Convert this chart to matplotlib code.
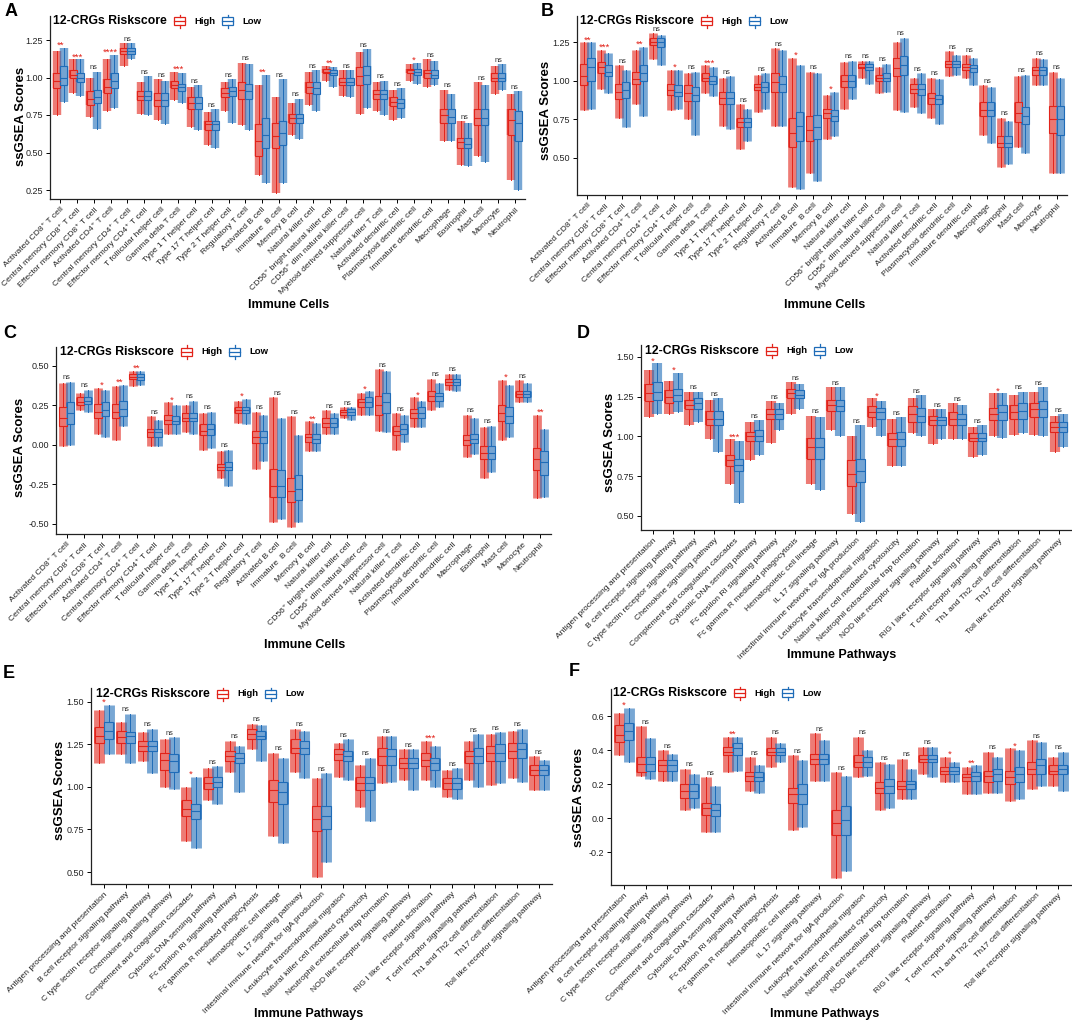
import numpy as np
import matplotlib
matplotlib.use('Agg')
import matplotlib.pyplot as plt
from matplotlib.patches import Rectangle
from matplotlib.lines import Line2D

plt.rcParams['font.family'] = ['Liberation Sans', 'DejaVu Sans']

W, H = 1072, 1023
high_color = '#E2231A'
low_color = '#1F6CB8'
ns_color = '#333333'

cell_types = [
    'Activated CD8\u207a T cell', 'Central memory CD8\u207a T cell', 'Effector memory CD8\u207a T cell',
    'Activated CD4\u207a T cell', 'Central memory CD4\u207a T cell', 'Effector memory CD4\u207a T cell',
    'T follicular helper cell', 'Gamma delta T cell', 'Type 1 T helper cell', 'Type 17 T helper cell',
    'Type 2 T helper cell', 'Regulatory T cell', 'Activated B cell', 'Immature  B cell', 'Memory B cell',
    'Natural killer cell', 'CD56\u207a bright natural killer cell', 'CD56\u207a dim natural killer cell',
    'Myeloid derived suppressor cell', 'Natural killer T cell', 'Activated dendritic cell',
    'Plasmacytoid dendritic cell', 'Immature dendritic cell', 'Macrophage', 'Eosinophil', 'Mast cell',
    'Monocyte', 'Neutrophil',
]

pathways = [
    'Antigen processing and presentation', 'B cell receptor signaling pathway',
    'C type lectin receptor signaling pathway', 'Chemokine signaling pathway',
    'Complement and coagulation cascades', 'Cytosolic DNA sensing pathway',
    'Fc epsilon RI signaling pathway', 'Fc gamma R mediated phagocytosis', 'Hematopoietic cell lineage',
    'IL 17 signaling pathway', 'Intestinal immune network for IgA production',
    'Leukocyte transendothelial migration', 'Natural killer cell mediated cytotoxicity',
    'Neutrophil extracellular trap formation', 'NOD like receptor signaling pathway',
    'Platelet activation', 'RIG I like receptor signaling pathway', 'T cell receptor signaling pathway',
    'Th1 and Th2 cell differentiation', 'Th17 cell differentiation', 'Toll like receptor signaling pathway',
]

# each row: (lowest point, q1, median, q3, highest point)
A_high = [
    (0.75, 0.93, 0.98, 1.03, 1.18), (0.90, 1.00, 1.02, 1.05, 1.12), (0.74, 0.82, 0.86, 0.91, 1.00),
    (0.78, 0.90, 0.94, 0.99, 1.12), (1.08, 1.16, 1.18, 1.20, 1.23), (0.76, 0.85, 0.88, 0.91, 0.97),
    (0.72, 0.81, 0.85, 0.90, 0.99), (0.85, 0.93, 0.95, 0.98, 1.04), (0.67, 0.79, 0.83, 0.87, 0.94),
    (0.55, 0.65, 0.69, 0.71, 0.77), (0.78, 0.87, 0.90, 0.93, 0.97), (0.68, 0.86, 0.92, 0.97, 1.10),
    (0.35, 0.48, 0.58, 0.69, 0.95), (0.23, 0.53, 0.61, 0.70, 0.87), (0.62, 0.70, 0.73, 0.76, 0.83),
    (0.82, 0.90, 0.94, 0.97, 1.04), (0.98, 1.03, 1.04, 1.06, 1.08), (0.88, 0.95, 0.97, 1.00, 1.05),
    (0.76, 0.95, 1.01, 1.07, 1.17), (0.78, 0.86, 0.89, 0.92, 0.97), (0.72, 0.81, 0.84, 0.87, 0.92),
    (0.98, 1.03, 1.05, 1.06, 1.09), (0.94, 1.00, 1.03, 1.05, 1.12), (0.58, 0.70, 0.75, 0.79, 0.92),
    (0.42, 0.53, 0.57, 0.60, 0.71), (0.48, 0.68, 0.73, 0.79, 0.97), (0.89, 0.98, 1.00, 1.03, 1.08),
    (0.32, 0.62, 0.72, 0.79, 0.89),
]
A_low = [
    (0.84, 0.95, 1.00, 1.08, 1.20), (0.88, 0.97, 1.00, 1.03, 1.12), (0.66, 0.83, 0.87, 0.92, 1.04),
    (0.80, 0.93, 0.98, 1.03, 1.15), (1.12, 1.16, 1.18, 1.20, 1.23), (0.75, 0.85, 0.88, 0.91, 1.01),
    (0.69, 0.81, 0.85, 0.90, 0.98), (0.83, 0.91, 0.94, 0.96, 1.03), (0.65, 0.79, 0.83, 0.87, 0.95),
    (0.53, 0.65, 0.69, 0.71, 0.79), (0.70, 0.88, 0.91, 0.94, 0.99), (0.65, 0.86, 0.91, 0.96, 1.09),
    (0.30, 0.53, 0.62, 0.73, 1.02), (0.30, 0.55, 0.63, 0.71, 0.99), (0.59, 0.70, 0.73, 0.76, 0.86),
    (0.78, 0.89, 0.93, 0.97, 1.05), (0.94, 1.02, 1.03, 1.05, 1.07), (0.87, 0.95, 0.97, 1.00, 1.05),
    (0.80, 0.96, 1.02, 1.08, 1.19), (0.75, 0.86, 0.89, 0.92, 0.98), (0.73, 0.80, 0.83, 0.86, 0.93),
    (0.96, 1.02, 1.04, 1.06, 1.10), (0.95, 1.00, 1.02, 1.05, 1.11), (0.58, 0.70, 0.74, 0.79, 0.89),
    (0.41, 0.53, 0.56, 0.60, 0.70), (0.44, 0.68, 0.73, 0.79, 0.95), (0.92, 0.98, 1.00, 1.03, 1.09),
    (0.25, 0.58, 0.70, 0.78, 0.91),
]
A_sig = ['**', '***', 'ns', '****', 'ns', 'ns', 'ns', '***', 'ns', 'ns', 'ns', 'ns', '**', 'ns',
         'ns', 'ns', '**', 'ns', 'ns', 'ns', 'ns', '*', 'ns', 'ns', 'ns', 'ns', 'ns', 'ns']

B_high = [
    (0.81, 0.97, 1.03, 1.11, 1.25), (0.95, 1.05, 1.09, 1.12, 1.20), (0.76, 0.88, 0.93, 0.98, 1.10),
    (0.85, 0.98, 1.01, 1.06, 1.20), (1.14, 1.23, 1.25, 1.28, 1.31), (0.81, 0.91, 0.94, 0.98, 1.07),
    (0.75, 0.87, 0.92, 0.97, 1.05), (0.92, 1.00, 1.02, 1.05, 1.10), (0.71, 0.85, 0.89, 0.93, 1.02),
    (0.56, 0.70, 0.73, 0.76, 0.85), (0.80, 0.94, 0.96, 0.98, 1.04), (0.71, 0.93, 0.99, 1.05, 1.21),
    (0.31, 0.57, 0.66, 0.76, 1.15), (0.40, 0.61, 0.68, 0.77, 1.06), (0.62, 0.76, 0.79, 0.82, 0.91),
    (0.82, 0.96, 1.00, 1.04, 1.12), (1.02, 1.08, 1.09, 1.11, 1.13), (0.92, 1.00, 1.02, 1.04, 1.09),
    (0.81, 1.03, 1.08, 1.15, 1.25), (0.83, 0.92, 0.95, 0.98, 1.02), (0.76, 0.85, 0.89, 0.92, 1.02),
    (1.03, 1.09, 1.11, 1.13, 1.19), (1.02, 1.07, 1.09, 1.11, 1.17), (0.65, 0.77, 0.81, 0.86, 0.97),
    (0.44, 0.57, 0.60, 0.64, 0.76), (0.57, 0.73, 0.79, 0.86, 1.03), (0.97, 1.04, 1.07, 1.09, 1.15),
    (0.40, 0.66, 0.75, 0.84, 1.06),
]
B_low = [
    (0.82, 1.00, 1.09, 1.15, 1.25), (0.92, 1.03, 1.06, 1.10, 1.18), (0.70, 0.89, 0.94, 0.99, 1.07),
    (0.77, 1.00, 1.05, 1.10, 1.22), (1.10, 1.22, 1.25, 1.28, 1.30), (0.82, 0.90, 0.93, 0.97, 1.07),
    (0.65, 0.87, 0.91, 0.96, 1.06), (0.90, 0.98, 1.00, 1.03, 1.09), (0.69, 0.85, 0.89, 0.93, 1.03),
    (0.61, 0.70, 0.73, 0.76, 0.82), (0.82, 0.93, 0.96, 0.99, 1.05), (0.71, 0.93, 0.98, 1.03, 1.20),
    (0.30, 0.61, 0.71, 0.80, 1.10), (0.35, 0.62, 0.70, 0.78, 1.05), (0.64, 0.74, 0.77, 0.81, 0.93),
    (0.88, 0.96, 1.00, 1.04, 1.13), (0.98, 1.07, 1.09, 1.11, 1.13), (0.93, 1.00, 1.02, 1.05, 1.11),
    (0.80, 1.04, 1.10, 1.16, 1.28), (0.79, 0.91, 0.95, 0.98, 1.05), (0.72, 0.85, 0.88, 0.91, 1.01),
    (1.04, 1.09, 1.11, 1.13, 1.17), (0.97, 1.06, 1.08, 1.10, 1.15), (0.60, 0.77, 0.81, 0.86, 0.96),
    (0.46, 0.57, 0.60, 0.64, 0.74), (0.53, 0.72, 0.77, 0.83, 1.04), (0.97, 1.04, 1.07, 1.09, 1.14),
    (0.40, 0.65, 0.75, 0.84, 1.02),
]
B_sig = ['**', '***', 'ns', '**', 'ns', '*', 'ns', '***', 'ns', 'ns', 'ns', 'ns', '*', 'ns',
         '*', 'ns', 'ns', 'ns', 'ns', 'ns', 'ns', 'ns', 'ns', 'ns', 'ns', 'ns', 'ns', 'ns']

C_high = [
    (-0.01, 0.12, 0.17, 0.24, 0.39), (0.22, 0.25, 0.27, 0.30, 0.33), (0.07, 0.17, 0.21, 0.26, 0.36),
    (0.03, 0.17, 0.21, 0.26, 0.37), (0.37, 0.42, 0.43, 0.45, 0.47), (-0.01, 0.05, 0.08, 0.10, 0.18),
    (0.07, 0.13, 0.16, 0.19, 0.27), (0.08, 0.15, 0.17, 0.20, 0.25), (-0.03, 0.06, 0.09, 0.13, 0.20),
    (-0.21, -0.16, -0.14, -0.12, -0.04), (0.14, 0.20, 0.22, 0.24, 0.28), (-0.15, 0.01, 0.05, 0.09, 0.21),
    (-0.49, -0.33, -0.26, -0.15, 0.30), (-0.52, -0.36, -0.29, -0.21, 0.18), (-0.04, 0.02, 0.05, 0.07, 0.15),
    (0.07, 0.11, 0.14, 0.17, 0.22), (0.17, 0.19, 0.21, 0.22, 0.24), (0.19, 0.24, 0.27, 0.29, 0.33),
    (0.09, 0.19, 0.25, 0.31, 0.48), (-0.03, 0.06, 0.09, 0.12, 0.20), (0.11, 0.17, 0.20, 0.23, 0.30),
    (0.22, 0.28, 0.31, 0.34, 0.42), (0.35, 0.38, 0.40, 0.42, 0.45), (-0.08, 0.00, 0.03, 0.06, 0.19),
    (-0.21, -0.09, -0.05, -0.01, 0.11), (0.03, 0.15, 0.20, 0.25, 0.41), (0.27, 0.30, 0.32, 0.34, 0.41),
    (-0.34, -0.16, -0.09, -0.02, 0.19),
]
C_low = [
    (0.00, 0.13, 0.20, 0.27, 0.40), (0.21, 0.26, 0.28, 0.30, 0.35), (0.05, 0.18, 0.22, 0.27, 0.35),
    (0.12, 0.18, 0.23, 0.28, 0.38), (0.38, 0.41, 0.43, 0.45, 0.47), (-0.01, 0.05, 0.08, 0.10, 0.16),
    (0.07, 0.13, 0.15, 0.18, 0.25), (0.07, 0.15, 0.17, 0.20, 0.28), (-0.02, 0.06, 0.10, 0.13, 0.21),
    (-0.26, -0.16, -0.14, -0.11, -0.03), (0.13, 0.20, 0.22, 0.24, 0.29), (-0.10, 0.01, 0.05, 0.09, 0.19),
    (-0.47, -0.33, -0.26, -0.16, 0.17), (-0.49, -0.35, -0.28, -0.19, 0.06), (-0.04, 0.01, 0.04, 0.07, 0.14),
    (0.07, 0.11, 0.14, 0.17, 0.20), (0.16, 0.19, 0.21, 0.23, 0.24), (0.19, 0.24, 0.27, 0.30, 0.34),
    (0.08, 0.20, 0.27, 0.33, 0.47), (0.02, 0.07, 0.10, 0.13, 0.19), (0.11, 0.17, 0.20, 0.24, 0.28),
    (0.24, 0.28, 0.31, 0.33, 0.39), (0.34, 0.38, 0.40, 0.42, 0.45), (-0.06, 0.01, 0.04, 0.07, 0.17),
    (-0.17, -0.09, -0.05, -0.01, 0.12), (0.05, 0.14, 0.18, 0.24, 0.38), (0.27, 0.30, 0.32, 0.34, 0.39),
    (-0.33, -0.19, -0.11, -0.04, 0.10),
]
C_sig = ['ns', 'ns', '*', '**', '**', 'ns', '*', 'ns', 'ns', 'ns', '*', 'ns', 'ns', 'ns',
         '**', 'ns', 'ns', '*', 'ns', 'ns', '*', 'ns', 'ns', 'ns', 'ns', '*', 'ns', '**']

D_high = [
    (1.12, 1.22, 1.27, 1.33, 1.42), (1.14, 1.21, 1.25, 1.29, 1.35), (1.07, 1.17, 1.20, 1.23, 1.28),
    (0.98, 1.07, 1.11, 1.16, 1.23), (0.70, 0.81, 0.85, 0.88, 0.98), (0.85, 0.97, 1.00, 1.03, 1.09),
    (0.96, 1.11, 1.14, 1.17, 1.22), (1.14, 1.24, 1.27, 1.30, 1.34), (0.70, 0.86, 0.93, 0.99, 1.13),
    (1.04, 1.16, 1.20, 1.23, 1.31), (0.51, 0.69, 0.76, 0.85, 1.00), (1.06, 1.12, 1.15, 1.19, 1.24),
    (0.81, 0.94, 0.98, 1.02, 1.11), (1.02, 1.09, 1.14, 1.19, 1.24), (0.95, 1.07, 1.10, 1.13, 1.17),
    (0.98, 1.07, 1.11, 1.15, 1.21), (0.87, 0.97, 0.99, 1.02, 1.06), (1.00, 1.10, 1.14, 1.18, 1.27),
    (1.01, 1.11, 1.15, 1.20, 1.26), (1.01, 1.12, 1.17, 1.21, 1.28), (0.90, 1.03, 1.06, 1.09, 1.13),
]
D_low = [
    (1.14, 1.23, 1.28, 1.34, 1.46), (1.15, 1.22, 1.26, 1.30, 1.40), (1.09, 1.17, 1.21, 1.24, 1.28),
    (0.90, 1.07, 1.11, 1.16, 1.24), (0.58, 0.78, 0.82, 0.86, 0.97), (0.88, 0.97, 1.00, 1.04, 1.10),
    (1.04, 1.11, 1.14, 1.17, 1.21), (1.17, 1.24, 1.26, 1.29, 1.33), (0.66, 0.86, 0.93, 0.99, 1.12),
    (1.00, 1.16, 1.19, 1.23, 1.31), (0.46, 0.71, 0.78, 0.86, 1.07), (1.00, 1.11, 1.15, 1.18, 1.22),
    (0.81, 0.94, 0.98, 1.03, 1.12), (1.00, 1.09, 1.13, 1.18, 1.26), (0.98, 1.07, 1.10, 1.12, 1.17),
    (0.98, 1.07, 1.11, 1.14, 1.20), (0.88, 0.97, 0.99, 1.02, 1.07), (0.99, 1.10, 1.15, 1.20, 1.27),
    (1.02, 1.11, 1.16, 1.21, 1.28), (1.00, 1.12, 1.17, 1.22, 1.31), (0.93, 1.03, 1.06, 1.09, 1.14),
]
D_sig = ['*', '*', 'ns', 'ns', '***', 'ns', 'ns', 'ns', 'ns', 'ns', 'ns', '*', 'ns', 'ns',
         'ns', 'ns', 'ns', '*', 'ns', 'ns', 'ns']

E_high = [
    (1.14, 1.26, 1.30, 1.35, 1.45), (1.19, 1.26, 1.29, 1.33, 1.38), (1.15, 1.21, 1.24, 1.27, 1.32),
    (1.00, 1.10, 1.16, 1.20, 1.28), (0.68, 0.83, 0.87, 0.92, 1.00), (0.92, 0.99, 1.02, 1.06, 1.11),
    (1.09, 1.15, 1.18, 1.21, 1.27), (1.22, 1.28, 1.31, 1.34, 1.37), (0.71, 0.91, 0.98, 1.04, 1.20),
    (1.09, 1.20, 1.23, 1.28, 1.34), (0.47, 0.74, 0.81, 0.89, 1.05), (1.06, 1.16, 1.19, 1.22, 1.26),
    (0.88, 0.98, 1.02, 1.06, 1.13), (1.02, 1.13, 1.18, 1.23, 1.30), (1.04, 1.11, 1.14, 1.17, 1.22),
    (1.04, 1.12, 1.16, 1.20, 1.27), (0.94, 0.99, 1.02, 1.05, 1.10), (1.04, 1.14, 1.18, 1.21, 1.27),
    (1.01, 1.15, 1.20, 1.24, 1.31), (1.05, 1.17, 1.21, 1.26, 1.33), (0.98, 1.07, 1.10, 1.13, 1.18),
]
E_low = [
    (1.19, 1.28, 1.33, 1.38, 1.48), (1.14, 1.26, 1.30, 1.32, 1.43), (1.08, 1.21, 1.24, 1.27, 1.34),
    (0.99, 1.09, 1.15, 1.19, 1.29), (0.64, 0.81, 0.86, 0.90, 1.06), (0.90, 1.00, 1.03, 1.06, 1.12),
    (0.97, 1.14, 1.17, 1.20, 1.24), (1.15, 1.28, 1.30, 1.33, 1.36), (0.67, 0.90, 0.97, 1.03, 1.17),
    (1.05, 1.19, 1.23, 1.27, 1.33), (0.56, 0.75, 0.83, 0.89, 1.08), (1.04, 1.15, 1.18, 1.21, 1.28),
    (0.80, 0.98, 1.02, 1.06, 1.17), (1.03, 1.13, 1.18, 1.22, 1.30), (0.98, 1.11, 1.14, 1.17, 1.22),
    (1.00, 1.10, 1.14, 1.17, 1.24), (0.93, 0.99, 1.02, 1.05, 1.11), (1.00, 1.14, 1.18, 1.23, 1.31),
    (1.02, 1.15, 1.20, 1.25, 1.32), (1.03, 1.17, 1.22, 1.26, 1.34), (0.98, 1.07, 1.10, 1.13, 1.16),
]
E_sig = ['*', 'ns', 'ns', 'ns', '*', 'ns', 'ns', 'ns', 'ns', 'ns', 'ns', 'ns', 'ns', 'ns',
         'ns', '***', 'ns', 'ns', 'ns', 'ns', 'ns']

F_high = [
    (0.37, 0.45, 0.49, 0.55, 0.62), (0.25, 0.27, 0.32, 0.36, 0.54), (0.22, 0.28, 0.31, 0.34, 0.40),
    (0.05, 0.12, 0.16, 0.20, 0.29), (-0.08, 0.02, 0.06, 0.09, 0.24), (0.27, 0.37, 0.39, 0.42, 0.48),
    (0.16, 0.22, 0.25, 0.27, 0.36), (0.30, 0.37, 0.39, 0.41, 0.48), (-0.07, 0.09, 0.14, 0.18, 0.37),
    (0.22, 0.32, 0.35, 0.38, 0.50), (-0.35, -0.10, -0.03, 0.05, 0.27), (0.24, 0.30, 0.33, 0.37, 0.48),
    (0.05, 0.15, 0.18, 0.21, 0.33), (0.11, 0.17, 0.19, 0.22, 0.35), (0.26, 0.33, 0.35, 0.37, 0.42),
    (0.21, 0.26, 0.28, 0.30, 0.36), (0.14, 0.22, 0.24, 0.26, 0.30), (0.15, 0.21, 0.25, 0.28, 0.39),
    (0.10, 0.20, 0.24, 0.28, 0.41), (0.17, 0.26, 0.29, 0.33, 0.46), (0.19, 0.26, 0.28, 0.31, 0.36),
]
F_low = [
    (0.33, 0.46, 0.51, 0.56, 0.65), (0.23, 0.28, 0.32, 0.36, 0.47), (0.22, 0.28, 0.31, 0.34, 0.38),
    (0.06, 0.12, 0.16, 0.20, 0.26), (-0.08, 0.01, 0.05, 0.08, 0.19), (0.28, 0.37, 0.41, 0.44, 0.48),
    (0.15, 0.22, 0.24, 0.27, 0.31), (0.33, 0.37, 0.39, 0.41, 0.44), (-0.05, 0.08, 0.14, 0.20, 0.34),
    (0.22, 0.32, 0.35, 0.38, 0.46), (-0.31, -0.10, -0.01, 0.07, 0.25), (0.25, 0.30, 0.33, 0.36, 0.40),
    (0.06, 0.15, 0.19, 0.23, 0.32), (0.11, 0.17, 0.20, 0.22, 0.29), (0.24, 0.33, 0.35, 0.37, 0.42),
    (0.21, 0.26, 0.28, 0.30, 0.33), (0.14, 0.22, 0.25, 0.27, 0.31), (0.15, 0.22, 0.26, 0.29, 0.36),
    (0.11, 0.21, 0.26, 0.30, 0.40), (0.19, 0.26, 0.31, 0.35, 0.45), (0.16, 0.26, 0.29, 0.31, 0.39),
]
F_sig = ['*', 'ns', 'ns', 'ns', 'ns', '**', 'ns', 'ns', 'ns', 'ns', 'ns', 'ns', 'ns', 'ns',
         'ns', '*', '**', 'ns', '*', 'ns', 'ns']


def fx(px):
    return px / W


def fy(py):
    return 1 - py / H


def draw_legend(fig, x0, yc):
    fig.text(fx(x0), fy(yc), '12-CRGs Riskscore', fontsize=8.8, fontweight='bold',
             ha='left', va='center')
    for dx, col, lab in ((121, high_color, 'High'), (169, low_color, 'Low')):
        bx = x0 + dx
        fig.add_artist(Rectangle((fx(bx), fy(yc + 4)), 11 / W, 8 / H, transform=fig.transFigure,
                                 fill=False, edgecolor=col, lw=0.9))
        fig.add_artist(Line2D([fx(bx), fx(bx + 11)], [fy(yc), fy(yc)], color=col, lw=0.9,
                              transform=fig.transFigure))
        for y1, y2 in ((yc - 4, yc - 6.5), (yc + 4, yc + 6.5)):
            fig.add_artist(Line2D([fx(bx + 5.5)] * 2, [fy(y1), fy(y2)], color=col, lw=0.9,
                                  transform=fig.transFigure))
        fig.text(fx(bx + 20), fy(yc), lab, fontsize=6.8, fontweight='bold', ha='left', va='center')


def draw_panel(fig, rect, cats, high, low, sig, ylim, yticks, yfmt):
    left, top, right, bottom = rect
    ax = fig.add_axes([fx(left), fy(bottom), (right - left) / W, (bottom - top) / H])
    n = len(cats)
    x = np.arange(1, n + 1)
    ax.set_xlim(0.4, n + 0.6)
    ax.set_ylim(*ylim)
    ppu = (right - left) / (n + 0.2)
    box_w = 0.42
    cloud_lw = 0.5 * ppu * 72 / 100
    for stats, off, col in ((high, -0.21, high_color), (low, 0.21, low_color)):
        arr = np.array(stats)
        pos = x + off
        ax.vlines(pos, arr[:, 0], arr[:, 4], color=col, lw=cloud_lw, alpha=0.6, zorder=1)
        ax.vlines(pos, arr[:, 1], arr[:, 3], color=col, lw=cloud_lw, alpha=0.7, zorder=1)
        bstats = [dict(whislo=s[0], q1=s[1], med=s[2], q3=s[3], whishi=s[4], fliers=[])
                  for s in stats]
        ax.bxp(bstats, positions=pos, widths=box_w, patch_artist=True, showcaps=False,
               showfliers=False, manage_ticks=False, zorder=2,
               boxprops=dict(facecolor=(1, 1, 1, 0.3), edgecolor=col, linewidth=0.8),
               medianprops=dict(color=col, linewidth=0.8),
               whiskerprops=dict(color=col, linewidth=0.7))
    tops = np.maximum(np.array(high)[:, 4], np.array(low)[:, 4])
    for xi, t, s in zip(x, tops, sig):
        if s == 'ns':
            ax.annotate(s, (xi, t), xytext=(0, 0.3), textcoords='offset points', ha='center',
                        va='bottom', fontsize=5.3, color=ns_color)
        else:
            ax.annotate(s, (xi, t), xytext=(0, -1.5), textcoords='offset points', ha='center',
                        va='bottom', fontsize=6.8, color=high_color)
    ax.set_xticks(x)
    ax.set_xticklabels(cats, rotation=45, ha='right', rotation_mode='anchor', fontsize=6.1,
                       color='#222222')
    ax.set_yticks(yticks)
    ax.set_yticklabels([yfmt.format(v) for v in yticks], fontsize=6.5, color='#222222')
    ax.tick_params(length=3, width=0.7, pad=2)
    for side in ('top', 'right'):
        ax.spines[side].set_visible(False)
    for side in ('left', 'bottom'):
        ax.spines[side].set_linewidth(0.9)
        ax.spines[side].set_color('#222222')
    return ax


fig = plt.figure(figsize=(W / 100, H / 100), dpi=100)

panels = [
    # letter, letter pos, axes rect (px), data, ylim, ticks, fmt, legend x/y, xlabel, xlabel pos, ylabel pos
    ('A', (5, 12), (50, 16, 525, 199), cell_types, A_high, A_low, A_sig, (0.19, 1.41),
     [0.25, 0.5, 0.75, 1.0, 1.25], '{:.2f}', (53, 21), 'Immune Cells', (289, 305), (21, 116)),
    ('B', (541, 12), (577, 16, 1067, 195), cell_types, B_high, B_low, B_sig, (0.26, 1.42),
     [0.5, 0.75, 1.0, 1.25], '{:.2f}', (580, 21), 'Immune Cells', (825, 305), (546, 110)),
    ('C', (3, 334), (56, 347, 551, 534), cell_types, C_high, C_low, C_sig, (-0.565, 0.62),
     [-0.5, -0.25, 0.0, 0.25, 0.5], '{:.2f}', (60, 352), 'Immune Cells', (305, 645), (20, 447)),
    ('D', (577, 334), (641, 345, 1071, 530), pathways, D_high, D_low, D_sig, (0.41, 1.575),
     [0.5, 0.75, 1.0, 1.25, 1.5], '{:.2f}', (645, 351), 'Immune Pathways', (842, 655), (610, 442)),
    ('E', (3, 673), (91, 688, 552, 884), pathways, E_high, E_low, E_sig, (0.43, 1.58),
     [0.5, 0.75, 1.0, 1.25, 1.5], '{:.2f}', (96, 694), 'Immune Pathways', (309, 1014), (60, 790)),
    ('F', (569, 672), (611, 689, 1071, 885), pathways, F_high, F_low, F_sig, (-0.394, 0.76),
     [-0.2, 0.0, 0.2, 0.4, 0.6], '{:.1f}', (613, 693), 'Immune Pathways', (825, 1014), (579, 797)),
]

for (letter, lpos, rect, cats, hi, lo, sg, ylim, yt, yf, legpos, xlab, xlpos, ylpos) in panels:
    draw_panel(fig, rect, cats, hi, lo, sg, ylim, yt, yf)
    fig.text(fx(lpos[0]), fy(lpos[1]), letter, fontsize=13, fontweight='bold', ha='left', va='center')
    draw_legend(fig, *legpos)
    fig.text(fx(xlpos[0]), fy(xlpos[1]), xlab, fontsize=9, fontweight='bold', ha='center', va='center')
    fig.text(fx(ylpos[0]), fy(ylpos[1]), 'ssGSEA Scores', fontsize=9.5, fontweight='bold',
             ha='center', va='center', rotation=90)

fig.savefig('out.png', dpi=100, facecolor='white')
